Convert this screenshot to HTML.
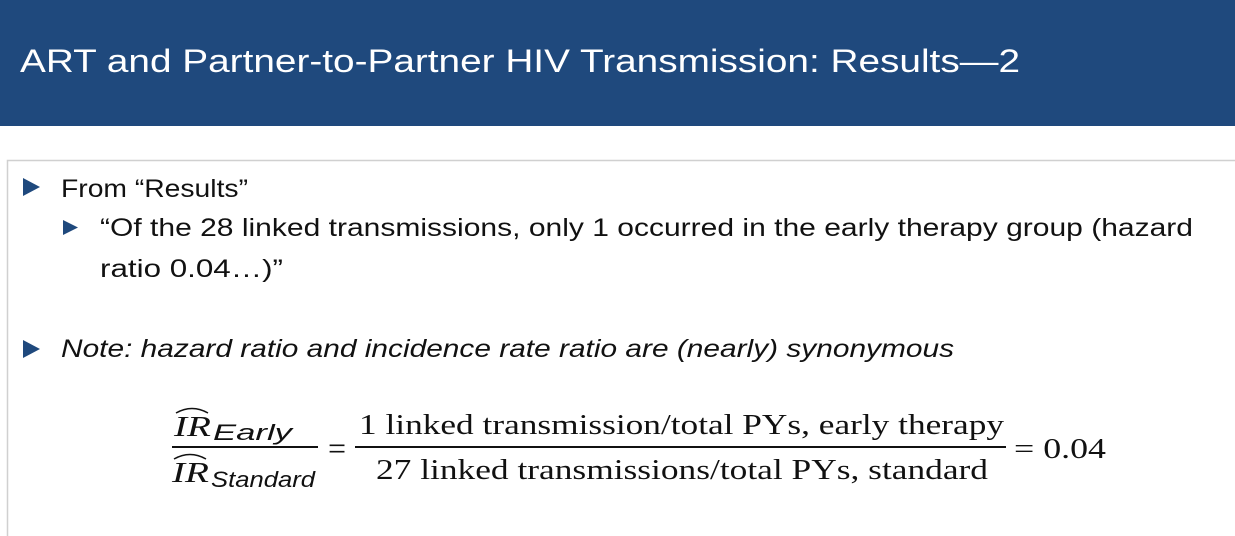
<!DOCTYPE html>
<html><head><meta charset="utf-8"><style>
html,body{margin:0;padding:0;background:#fff;}
svg{display:block}
</style></head><body>
<svg width="1235" height="536" viewBox="0 0 1235 536" font-family="Liberation Sans, sans-serif">
<rect x="0" y="0" width="1235" height="126" fill="#1f497d"/>
<text x="20" y="72" font-size="32" fill="#fff" textLength="1000" lengthAdjust="spacingAndGlyphs">ART and Partner-to-Partner HIV Transmission: Results—2</text>
<rect x="7.5" y="160.5" width="1240" height="400" fill="#fff" stroke="#d0d0d0" stroke-width="1.5"/>
<polygon points="23,178 23,196 40,187" fill="#1f497d"/>
<text x="61" y="197" font-size="25" fill="#111" textLength="187" lengthAdjust="spacingAndGlyphs">From “Results”</text>
<polygon points="63,220 63,235 78,227.5" fill="#1f497d"/>
<text x="100" y="236" font-size="25" fill="#111" textLength="1093" lengthAdjust="spacingAndGlyphs">“Of the 28 linked transmissions, only 1 occurred in the early therapy group (hazard</text>
<text x="100" y="277" font-size="25" fill="#111" textLength="183" lengthAdjust="spacingAndGlyphs">ratio 0.04…)”</text>
<polygon points="23,340 23,358 40,349" fill="#1f497d"/>
<text x="61" y="357" font-size="25" font-style="italic" fill="#111" textLength="893" lengthAdjust="spacingAndGlyphs">Note: hazard ratio and incidence rate ratio are (nearly) synonymous</text>
<g font-family="Liberation Serif, serif" fill="#111">
<text x="174" y="436" font-size="29" font-style="italic" textLength="37" lengthAdjust="spacingAndGlyphs">IR</text>
<text x="213" y="440" font-size="22" font-style="italic" font-family="Liberation Sans, sans-serif" textLength="79" lengthAdjust="spacingAndGlyphs">Early</text>
<path d="M176,413 Q192,404 208,413" fill="none" stroke="#111" stroke-width="1.5"/>
<line x1="172" y1="447" x2="318" y2="447" stroke="#111" stroke-width="2"/>
<text x="172" y="482" font-size="29" font-style="italic" textLength="37" lengthAdjust="spacingAndGlyphs">IR</text>
<text x="211" y="487" font-size="22" font-style="italic" font-family="Liberation Sans, sans-serif" textLength="104" lengthAdjust="spacingAndGlyphs">Standard</text>
<path d="M174,459 Q190,450 206,459" fill="none" stroke="#111" stroke-width="1.5"/>
<text x="328" y="459" font-size="32">=</text>
<text x="359" y="434" font-size="29" textLength="645" lengthAdjust="spacingAndGlyphs">1 linked transmission/total PYs, early therapy</text>
<line x1="355" y1="447" x2="1006" y2="447" stroke="#111" stroke-width="2"/>
<text x="376" y="479" font-size="29" textLength="612" lengthAdjust="spacingAndGlyphs">27 linked transmissions/total PYs, standard</text>
<text x="1014" y="458" font-size="29" textLength="92" lengthAdjust="spacingAndGlyphs">= 0.04</text>
</g>
</svg>
</body></html>
